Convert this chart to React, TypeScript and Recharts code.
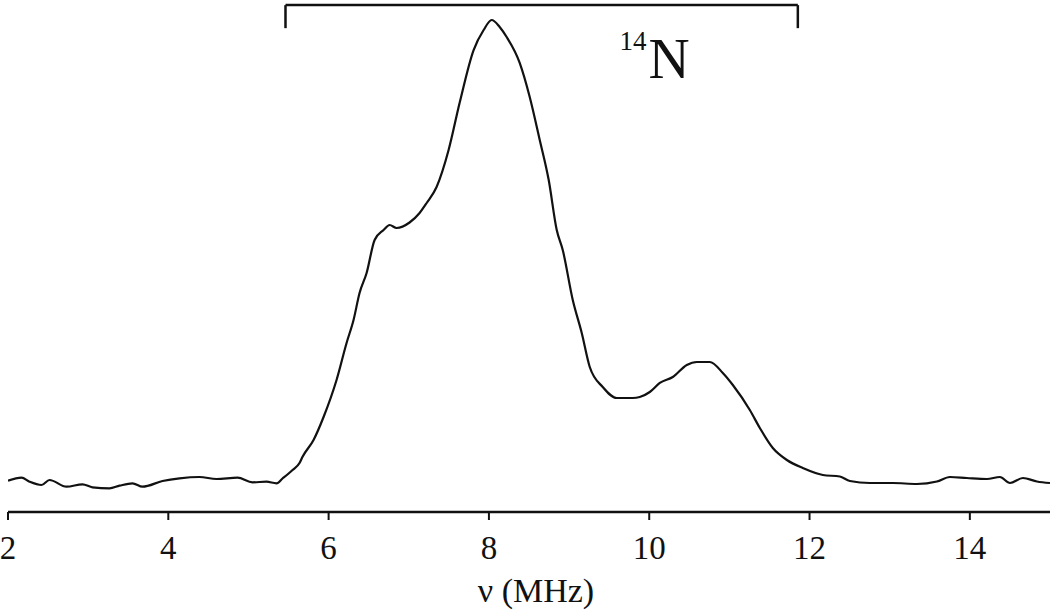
import React from "react";
import { LineChart, Line, XAxis, YAxis, ReferenceLine, ReferenceDot, Label } from "recharts";

// ENDOR spectrum: frequency (MHz) and intensity (arb. units, 0-100)
const frequencies = [
  2.0, 2.168, 2.268, 2.418, 2.518, 2.73, 2.93, 3.054, 3.266, 3.391, 3.553, 3.678, 3.928, 4.14, 4.389,
  4.601, 4.864, 5.051, 5.225, 5.35, 5.425, 5.55, 5.637, 5.675, 5.812, 5.937, 6.099, 6.224, 6.311, 6.386,
  6.474, 6.574, 6.686, 6.761, 6.848, 7.01, 7.135, 7.223, 7.347, 7.497, 7.634, 7.809, 7.934, 8.034, 8.134,
  8.221, 8.384, 8.509, 8.634, 8.746, 8.846, 8.921, 9.046, 9.158, 9.258, 9.42, 9.595, 9.794, 9.882, 10.007,
  10.132, 10.294, 10.469, 10.594, 10.756, 10.918, 11.043, 11.255, 11.38, 11.542, 11.717, 11.916, 12.166,
  12.378, 12.503, 12.753, 13.04, 13.339, 13.589, 13.751, 13.963, 14.213, 14.375, 14.5, 14.662, 14.837, 15.0,
];
const intensities = [
  6.11, 6.7, 5.92, 5.27, 6.25, 4.94, 5.41, 4.82, 4.63, 5.14, 5.61, 4.94, 6.05, 6.58, 6.84,
  6.45, 6.7, 5.8, 5.92, 5.61, 6.54, 8.2, 9.57, 10.8, 14.06, 18.55, 25.78, 33.01, 37.5, 42.77,
  46.68, 53.13, 55.08, 56.05, 55.47, 56.54, 58.4, 60.35, 63.48, 70.7, 79.88, 90.23, 94.14, 96.09, 94.73,
  92.77, 87.7, 81.05, 72.66, 64.84, 55.08, 51.17, 41.41, 34.96, 28.32, 24.41, 22.27, 22.27, 22.46, 23.44,
  25.2, 26.37, 28.71, 29.3, 29.3, 27.15, 24.8, 19.92, 16.41, 12.5, 10.16, 8.59, 7.23,
  6.93, 6.05, 5.66, 5.66, 5.47, 5.96, 6.84, 6.64, 6.45, 6.84, 5.66, 6.64, 5.96, 5.66,
];
const xTicks = [2, 4, 6, 8, 10, 12, 14];
const xAxisTitle = "ν (MHz)";
const bracketStart = 5.462;
const bracketEnd = 11.854;
const bracketTop = 99.0;
const bracketBottom = 94.5;
const nucleusMass = "14";
const nucleusSymbol = "N";
const nucleusLabelX = 9.63;
const nucleusLabelY = 84.8;

const data = frequencies.map((f, i) => ({ x: f, y: intensities[i] }));

const FONT = "'Liberation Serif', 'Times New Roman', serif";
const INK = "#111";

const Tick = (props: any) => {
  const { x, y, payload } = props;
  return (
    <text x={x} y={y + 37} textAnchor="middle" fontFamily={FONT} fontSize={33} fill={INK}>
      {payload.value}
    </text>
  );
};

const NucleusLabel = (props: any) => {
  const { cx, cy } = props;
  return (
    <g>
      <text x={cx} y={cy - 28} fontFamily={FONT} fontSize={27} fill={INK}>
        {nucleusMass}
      </text>
      <text x={cx + 29} y={cy} fontFamily={FONT} fontSize={57} fill={INK}>
        {nucleusSymbol}
      </text>
    </g>
  );
};

export default function App() {
  return (
    <div style={{ position: "absolute", left: 0, top: 0, background: "#fff" }}>
      <LineChart
        width={1050}
        height={614}
        data={data}
        margin={{ top: 0, right: 0, bottom: 0, left: 8 }}
      >
        <XAxis
          type="number"
          dataKey="x"
          domain={[2, 15]}
          ticks={xTicks}
          allowDataOverflow
          height={102}
          tickSize={8}
          tick={<Tick />}
          axisLine={{ stroke: INK, strokeWidth: 2.5 }}
          tickLine={{ stroke: INK, strokeWidth: 2 }}
        >
          <Label
            value={xAxisTitle}
            position="insideBottom"
            offset={12}
            dx={7}
            style={{ fontFamily: FONT, fontSize: 34, fill: INK }}
          />
        </XAxis>
        <YAxis type="number" domain={[0, 100]} hide allowDataOverflow />
        <ReferenceLine
          segment={[{ x: bracketStart, y: bracketTop }, { x: bracketEnd, y: bracketTop }]}
          stroke={INK}
          strokeWidth={2.5}
          ifOverflow="visible"
        />
        <ReferenceLine
          segment={[{ x: bracketStart, y: bracketTop }, { x: bracketStart, y: bracketBottom }]}
          stroke={INK}
          strokeWidth={2.5}
          ifOverflow="visible"
        />
        <ReferenceLine
          segment={[{ x: bracketEnd, y: bracketTop }, { x: bracketEnd, y: bracketBottom }]}
          stroke={INK}
          strokeWidth={2.5}
          ifOverflow="visible"
        />
        <ReferenceDot
          x={nucleusLabelX}
          y={nucleusLabelY}
          r={0}
          ifOverflow="visible"
          shape={<NucleusLabel />}
        />
        <Line
          type="monotone"
          dataKey="y"
          stroke={INK}
          strokeWidth={2.2}
          dot={false}
          isAnimationActive={false}
        />
      </LineChart>
    </div>
  );
}
